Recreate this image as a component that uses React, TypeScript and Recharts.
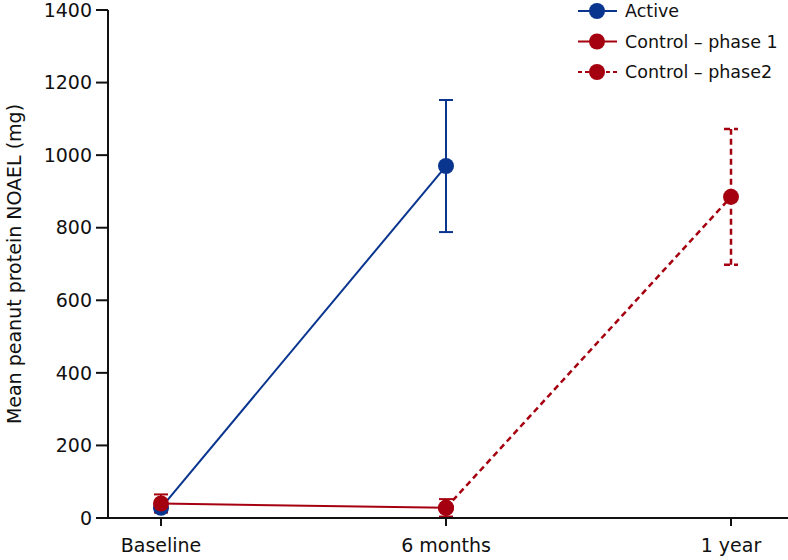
import React from 'react';
import { LineChart, Line, XAxis, YAxis, ErrorBar } from 'recharts';

const categories = ['Baseline', '6 months', '1 year'];
const activeValues = [28, 970, null];
const activeErrors = [null, 182, null];
const control1Values = [40, 28, null];
const control1Errors = [25, 24, null];
const control2Values = [null, 28, 885];
const control2Errors = [null, null, 187];
const yTicks = [0, 200, 400, 600, 800, 1000, 1200, 1400];
const seriesNames = ['Active', 'Control \u2013 phase 1', 'Control \u2013 phase2'];

const BLUE = '#0a358f';
const RED = '#a5000f';
const FONT = '"DejaVu Sans", sans-serif';

const data = categories.map((c, i) => ({
  name: c,
  active: activeValues[i],
  activeErr: activeErrors[i],
  control1: control1Values[i],
  control1Err: control1Errors[i],
  control2: control2Values[i],
  control2Err: control2Errors[i],
}));

const legendStyles = [
  { color: BLUE, dash: undefined },
  { color: RED, dash: undefined },
  { color: RED, dash: '4 3' },
];

const CustomLegend = () => (
  <svg width={218} height={90} style={{ position: 'absolute', left: 570, top: 0 }}>
    {seriesNames.map((n, i) => {
      const y = 11 + i * 30.5;
      const s = legendStyles[i];
      return (
        <g key={n}>
          <line x1={8} x2={47} y1={y} y2={y} stroke={s.color} strokeWidth={2} strokeDasharray={s.dash} />
          <circle cx={27} cy={y} r={8} fill={s.color} />
          <text x={55} y={y} dy="0.36em" fontSize={17.5} fontFamily={FONT} fill="#111">{n}</text>
        </g>
      );
    })}
  </svg>
);

export default function App() {
  return (
    <div style={{ position: 'absolute', left: 0, top: 0, width: 788, height: 560, background: '#fff' }}>
      <LineChart width={788} height={560} data={data} margin={{ top: 10, right: 0, bottom: 12, left: 0 }}>
        <XAxis
          dataKey="name"
          padding={{ left: 53, right: 57 }}
          height={30}
          tickSize={8}
          tickMargin={13}
          axisLine={{ stroke: '#111', strokeWidth: 2 }}
          tickLine={{ stroke: '#111', strokeWidth: 2 }}
          tick={{ fill: '#111', fontSize: 19, fontFamily: FONT }}
        />
        <YAxis
          width={108}
          domain={[0, 1400]}
          ticks={yTicks}
          interval={0}
          tickSize={12}
          tickMargin={4}
          axisLine={{ stroke: '#111', strokeWidth: 2 }}
          tickLine={{ stroke: '#111', strokeWidth: 2 }}
          tick={{ fill: '#111', fontSize: 19, fontFamily: FONT }}
          label={{
            value: 'Mean peanut protein NOAEL (mg)',
            angle: -90,
            position: 'insideLeft',
            offset: 14,
            style: { textAnchor: 'middle', fontSize: 19, fontFamily: FONT, fill: '#111' },
          }}
        />
        <Line
          dataKey="active"
          name={seriesNames[0]}
          stroke={BLUE}
          strokeWidth={2}
          dot={{ r: 8, fill: BLUE, stroke: 'none' }}
          isAnimationActive={false}
        >
          <ErrorBar dataKey="activeErr" direction="y" width={7} stroke={BLUE} strokeWidth={2} />
        </Line>
        <Line
          dataKey="control2"
          name={seriesNames[2]}
          stroke={RED}
          strokeWidth={2.5}
          strokeDasharray="6 4"
          dot={{ r: 8, fill: RED, stroke: 'none', strokeDasharray: '' }}
          isAnimationActive={false}
        >
          <ErrorBar dataKey="control2Err" direction="y" width={7} stroke={RED} strokeWidth={2.5} strokeDasharray="6 4" />
        </Line>
        <Line
          dataKey="control1"
          name={seriesNames[1]}
          stroke={RED}
          strokeWidth={2}
          dot={{ r: 8, fill: RED, stroke: 'none' }}
          isAnimationActive={false}
        >
          <ErrorBar dataKey="control1Err" direction="y" width={7} stroke={RED} strokeWidth={2} />
        </Line>
      </LineChart>
      <CustomLegend />
    </div>
  );
}
